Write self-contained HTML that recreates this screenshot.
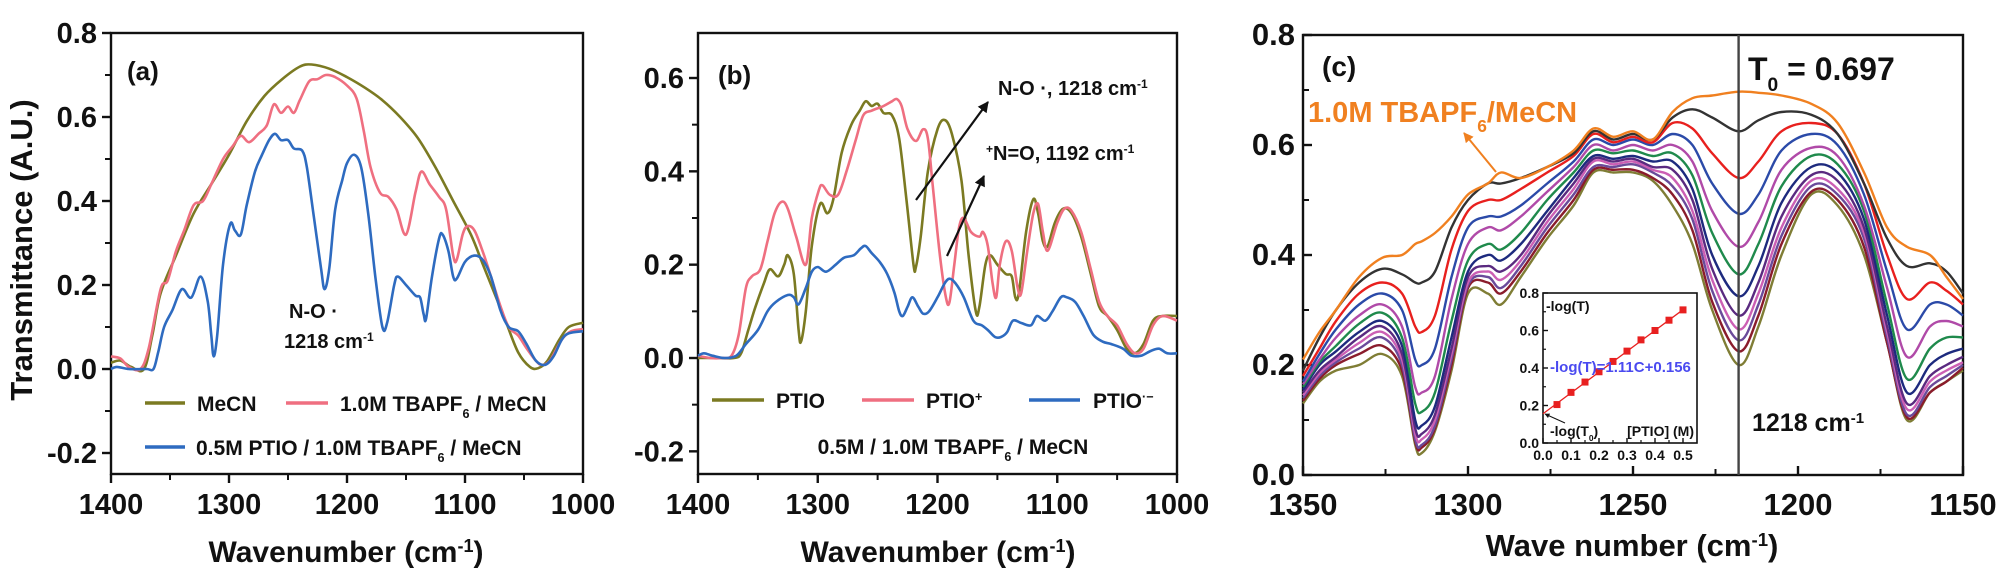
<!DOCTYPE html>
<html><head><meta charset="utf-8">
<style>
html,body{margin:0;padding:0;background:#fff;}
svg{display:block;font-family:"Liberation Sans",Arial,sans-serif;font-weight:bold;}
</style></head>
<body>
<svg id="fig" width="2008" height="584" viewBox="0 0 2008 584" xmlns="http://www.w3.org/2000/svg"></svg>
<script>
// ---------- Panel (a) data ----------
const waveA_MeCN=[1400,1392,1383,1372,1365,1358,1345,1330,1315,1300,1285,1270,1255,1240,1230,1215,1200,1185,1170,1155,1140,1125,1110,1095,1085,1075,1065,1055,1045,1038,1030,1020,1012,1000];
const valA_MeCN=[0.015,0.02,0.005,0.0,0.08,0.18,0.27,0.37,0.44,0.51,0.59,0.65,0.69,0.72,0.725,0.715,0.695,0.67,0.64,0.6,0.55,0.48,0.40,0.32,0.25,0.18,0.11,0.04,0.005,0.002,0.02,0.07,0.1,0.11];
const waveA_TBA=[1400,1392,1385,1375,1368,1358,1352,1345,1338,1330,1322,1315,1305,1297,1290,1283,1275,1268,1262,1256,1250,1245,1240,1232,1225,1218,1210,1200,1192,1186,1180,1172,1165,1158,1150,1142,1137,1130,1122,1116,1110,1107,1102,1098,1092,1085,1078,1070,1063,1055,1048,1040,1035,1028,1018,1010,1000];
const valA_TBA=[0.03,0.025,0.005,0,0.05,0.19,0.21,0.28,0.33,0.39,0.4,0.44,0.5,0.53,0.555,0.54,0.56,0.58,0.63,0.61,0.625,0.61,0.64,0.685,0.69,0.7,0.695,0.675,0.645,0.57,0.48,0.42,0.41,0.38,0.32,0.42,0.47,0.44,0.41,0.38,0.27,0.26,0.32,0.34,0.33,0.28,0.22,0.15,0.1,0.08,0.05,0.02,0.01,0.02,0.07,0.09,0.095];
const waveA_PTIO=[1400,1395,1385,1370,1364,1360,1355,1348,1340,1332,1324,1318,1315,1313,1310,1305,1299,1295,1290,1285,1278,1272,1266,1261,1256,1250,1245,1238,1234,1228,1222,1219,1215,1210,1204,1200,1194,1188,1182,1176,1170,1166,1160,1157,1150,1142,1138,1135,1133,1128,1122,1119,1114,1110,1107,1100,1092,1085,1078,1070,1063,1055,1048,1040,1032,1025,1018,1012,1000];
const valA_PTIO=[0,0.005,0,0,0,0.04,0.1,0.14,0.19,0.17,0.22,0.16,0.08,0.03,0.08,0.25,0.345,0.33,0.32,0.39,0.47,0.51,0.545,0.56,0.545,0.545,0.525,0.52,0.48,0.36,0.24,0.19,0.24,0.38,0.45,0.49,0.51,0.48,0.37,0.22,0.1,0.11,0.2,0.22,0.2,0.175,0.17,0.13,0.12,0.22,0.31,0.32,0.28,0.22,0.215,0.255,0.27,0.26,0.22,0.14,0.1,0.09,0.06,0.02,0.01,0.03,0.07,0.085,0.09];
const ticksA_Y=[-0.2,0.0,0.2,0.4,0.6,0.8];
const ticksA_X=[1400,1300,1200,1100,1000];

// ---------- Panel (b) data ----------
const waveB_PTIO=[1400,1385,1370,1364,1358,1352,1345,1340,1333,1328,1325,1320,1316,1314,1310,1305,1298,1292,1287,1280,1272,1265,1260,1255,1250,1245,1238,1232,1226,1220,1218,1214,1208,1200,1194,1188,1180,1174,1168,1165,1160,1156,1150,1143,1138,1135,1132,1126,1120,1116,1112,1108,1102,1095,1088,1080,1072,1065,1058,1050,1042,1035,1028,1020,1012,1000];
const valB_PTIO=[0,0,0,0.01,0.06,0.11,0.16,0.19,0.175,0.2,0.22,0.18,0.06,0.035,0.1,0.24,0.33,0.31,0.34,0.44,0.5,0.53,0.55,0.54,0.545,0.525,0.52,0.47,0.34,0.2,0.195,0.26,0.4,0.49,0.51,0.48,0.38,0.22,0.1,0.11,0.2,0.22,0.2,0.18,0.175,0.13,0.14,0.27,0.34,0.31,0.25,0.24,0.29,0.32,0.31,0.26,0.18,0.11,0.09,0.06,0.02,0.01,0.03,0.08,0.09,0.09];
const waveB_Cat=[1400,1390,1380,1372,1366,1360,1355,1348,1342,1336,1330,1325,1318,1310,1305,1299,1296,1290,1283,1276,1268,1262,1255,1250,1245,1238,1234,1230,1225,1218,1212,1208,1204,1198,1193,1190,1186,1182,1178,1172,1165,1162,1158,1154,1151,1148,1143,1138,1133,1130,1125,1120,1116,1112,1108,1100,1094,1088,1080,1072,1065,1058,1050,1042,1035,1028,1020,1012,1000];
const valB_Cat=[0.005,0,0,0.005,0.05,0.15,0.175,0.19,0.25,0.31,0.335,0.32,0.26,0.2,0.3,0.36,0.37,0.35,0.35,0.4,0.47,0.52,0.53,0.535,0.54,0.55,0.555,0.54,0.49,0.465,0.49,0.47,0.37,0.22,0.13,0.12,0.2,0.28,0.3,0.27,0.26,0.27,0.24,0.16,0.13,0.2,0.25,0.23,0.15,0.14,0.23,0.31,0.33,0.27,0.23,0.29,0.32,0.315,0.27,0.19,0.12,0.09,0.07,0.03,0.01,0.02,0.07,0.09,0.08];
const waveB_An=[1400,1395,1388,1378,1368,1360,1350,1342,1335,1325,1320,1316,1310,1305,1300,1293,1285,1278,1270,1264,1260,1255,1248,1242,1236,1232,1229,1225,1221,1216,1212,1207,1200,1194,1190,1185,1178,1170,1163,1158,1152,1147,1142,1137,1130,1122,1117,1110,1104,1097,1092,1085,1078,1070,1062,1055,1045,1038,1030,1022,1015,1008,1000];
const valB_An=[0.005,0.01,0.005,0,0.005,0.03,0.06,0.1,0.12,0.135,0.13,0.115,0.15,0.185,0.195,0.185,0.2,0.215,0.22,0.235,0.24,0.225,0.205,0.18,0.14,0.1,0.09,0.11,0.13,0.11,0.095,0.1,0.13,0.16,0.17,0.16,0.13,0.08,0.07,0.06,0.045,0.045,0.055,0.08,0.075,0.07,0.09,0.08,0.1,0.13,0.13,0.12,0.09,0.05,0.035,0.03,0.02,0.005,0.005,0.015,0.02,0.01,0.01];
const ticksB_Y=[-0.2,0.0,0.2,0.4,0.6];
const ticksB_X=[1400,1300,1200,1100,1000];

// ---------- Panel (c) data ----------
const waveC=[1350,1345,1340,1333,1326,1320,1316,1314,1310,1305,1300,1294,1290,1284,1276,1268,1262,1256,1250,1244,1238,1232,1226,1218,1212,1205,1196,1188,1180,1173,1167,1160,1155,1150];
const valC_orange=[0.21,0.26,0.30,0.36,0.395,0.40,0.42,0.425,0.44,0.47,0.51,0.53,0.55,0.54,0.56,0.59,0.63,0.615,0.625,0.61,0.66,0.685,0.69,0.697,0.695,0.69,0.675,0.64,0.55,0.45,0.415,0.40,0.36,0.32];
const valC_black=[0.19,0.25,0.30,0.35,0.375,0.365,0.35,0.35,0.37,0.45,0.50,0.53,0.53,0.54,0.56,0.585,0.625,0.61,0.62,0.61,0.65,0.665,0.65,0.625,0.645,0.66,0.655,0.62,0.53,0.43,0.38,0.385,0.37,0.33];
const valC_red=[0.18,0.23,0.28,0.33,0.35,0.33,0.27,0.26,0.29,0.41,0.48,0.50,0.50,0.52,0.55,0.58,0.62,0.605,0.615,0.605,0.64,0.63,0.585,0.54,0.57,0.625,0.64,0.62,0.53,0.40,0.32,0.35,0.335,0.31];
const valC_blue=[0.17,0.22,0.265,0.31,0.33,0.30,0.21,0.20,0.23,0.36,0.45,0.47,0.47,0.49,0.53,0.57,0.61,0.60,0.61,0.60,0.62,0.60,0.53,0.475,0.51,0.59,0.62,0.60,0.51,0.37,0.265,0.31,0.31,0.29];
const valC_magenta=[0.165,0.21,0.25,0.29,0.31,0.27,0.16,0.15,0.18,0.32,0.42,0.45,0.445,0.47,0.515,0.56,0.60,0.59,0.60,0.59,0.60,0.57,0.48,0.415,0.46,0.555,0.595,0.58,0.49,0.34,0.215,0.27,0.28,0.27];
const valC_green=[0.16,0.205,0.235,0.275,0.295,0.25,0.13,0.115,0.15,0.28,0.39,0.42,0.41,0.44,0.50,0.55,0.59,0.585,0.59,0.58,0.585,0.545,0.44,0.365,0.42,0.525,0.58,0.565,0.48,0.31,0.175,0.23,0.25,0.25];
const valC_navy=[0.155,0.20,0.225,0.26,0.28,0.235,0.10,0.09,0.125,0.25,0.37,0.40,0.39,0.42,0.48,0.54,0.58,0.575,0.58,0.57,0.57,0.52,0.40,0.325,0.38,0.495,0.56,0.55,0.465,0.29,0.15,0.20,0.22,0.23];
const valC_purple=[0.15,0.19,0.215,0.25,0.27,0.22,0.085,0.075,0.11,0.23,0.36,0.38,0.37,0.40,0.47,0.53,0.575,0.57,0.575,0.56,0.555,0.50,0.375,0.29,0.35,0.47,0.545,0.535,0.45,0.27,0.13,0.18,0.20,0.215];
const valC_pink=[0.145,0.185,0.21,0.24,0.26,0.21,0.075,0.065,0.10,0.22,0.35,0.37,0.355,0.39,0.46,0.52,0.57,0.565,0.57,0.555,0.54,0.48,0.355,0.265,0.33,0.45,0.535,0.52,0.44,0.26,0.12,0.17,0.19,0.205];
const valC_violet=[0.14,0.18,0.205,0.23,0.25,0.20,0.065,0.055,0.09,0.21,0.345,0.36,0.34,0.38,0.45,0.51,0.56,0.56,0.565,0.55,0.525,0.465,0.335,0.245,0.31,0.435,0.525,0.51,0.43,0.25,0.11,0.16,0.18,0.20];
const valC_darkred=[0.135,0.175,0.20,0.22,0.235,0.19,0.06,0.05,0.085,0.20,0.34,0.35,0.33,0.37,0.44,0.50,0.555,0.555,0.555,0.54,0.51,0.445,0.315,0.225,0.29,0.42,0.515,0.50,0.415,0.24,0.105,0.15,0.17,0.195];
const valC_olive=[0.13,0.17,0.19,0.20,0.22,0.18,0.055,0.04,0.08,0.19,0.33,0.33,0.31,0.36,0.43,0.49,0.55,0.55,0.55,0.535,0.49,0.42,0.30,0.20,0.27,0.40,0.51,0.49,0.40,0.24,0.10,0.15,0.17,0.19];
const ticksC_Y=[0.0,0.2,0.4,0.6,0.8];
const ticksC_X=[1350,1300,1250,1200,1150];

// inset
const insetConc=[0.05,0.1,0.15,0.2,0.25,0.3,0.35,0.4,0.45,0.5];
const insetVal=[0.205,0.27,0.325,0.38,0.435,0.49,0.55,0.6,0.655,0.71];
const insetSlope=[1.11];
const insetIntercept=[0.156];
const insetTicksX=[0.0,0.1,0.2,0.3,0.4,0.5];
const insetTicksY=[0.0,0.2,0.4,0.6,0.8];

const NS="http://www.w3.org/2000/svg";
const svg=document.getElementById('fig');
function mk(tag,attrs,parent){const e=document.createElementNS(NS,tag);for(const k in attrs)e.setAttribute(k,attrs[k]);(parent||svg).appendChild(e);return e;}
function scale(d0,d1,r0,r1){return v=>r0+(v-d0)/(d1-d0)*(r1-r0);}
function smoothPath(pts){
  let d=`M${pts[0][0].toFixed(1)},${pts[0][1].toFixed(1)}`;
  for(let i=0;i<pts.length-1;i++){
    const p0=pts[Math.max(0,i-1)],p1=pts[i],p2=pts[i+1],p3=pts[Math.min(pts.length-1,i+2)];
    const c1x=p1[0]+(p2[0]-p0[0])/6,c1y=p1[1]+(p2[1]-p0[1])/6;
    const c2x=p2[0]-(p3[0]-p1[0])/6,c2y=p2[1]-(p3[1]-p1[1])/6;
    d+=`C${c1x.toFixed(1)},${c1y.toFixed(1)} ${c2x.toFixed(1)},${c2y.toFixed(1)} ${p2[0].toFixed(1)},${p2[1].toFixed(1)}`;
  }
  return d;
}
function series(xs,ys,sx,sy,color,name,w){
  const pts=xs.map((x,i)=>[sx(x),sy(ys[i])]);
  const p=mk('path',{d:smoothPath(pts),fill:'none',stroke:color,'stroke-width':w||2.6,'stroke-linejoin':'round'});
  
  
  return p;
}
function text(x,y,str,size,opts){
  const t=mk('text',Object.assign({x:x,y:y,'font-size':size,fill:'#111'},opts||{}));
  t.textContent=str;return t;
}

// generic panel axes
function axes(o){
  const g=mk('g',{});
  
  
  const box=mk('rect',{x:o.x0,y:o.y0,width:o.x1-o.x0,height:o.y1-o.y0,fill:'none',stroke:'#111','stroke-width':2.4},g);
  
  
  const dir=o.inward?-1:1;
  o.ty.forEach((v,i)=>{
    const y=o.sy(v);
    mk('line',{x1:o.x0,x2:o.x0-9*dir,y1:y,y2:y,stroke:'#111','stroke-width':2.4},g);
    const t=text(o.x0-(o.inward?8:14),y+10,v.toFixed(1),o.tfs||29,{'text-anchor':'end'});
    
    
    if(i<o.ty.length-1){const ym=o.sy(v+(o.ty[1]-o.ty[0])/2);
      mk('line',{x1:o.x0,x2:o.x0-6*dir,y1:ym,y2:ym,stroke:'#111','stroke-width':2},g);}
  });
  if(o.minorTop!==undefined){const ym=o.sy(o.minorTop);mk('line',{x1:o.x0,x2:o.x0-6*dir,y1:ym,y2:ym,stroke:'#111','stroke-width':2},g);}
  o.tx.forEach((v,i)=>{
    const x=o.sx(v);
    mk('line',{x1:x,x2:x,y1:o.y1,y2:o.y1+9*dir,stroke:'#111','stroke-width':2.4},g);
    const t=text(x,o.y1+40,String(v),o.tfs||29,{'text-anchor':'middle'});
    
    
    if(i<o.tx.length-1){const xm=o.sx(v+(o.tx[1]-o.tx[0])/2);
      mk('line',{x1:xm,x2:xm,y1:o.y1,y2:o.y1+6*dir,stroke:'#111','stroke-width':2},g);}
  });
  return g;
}
function sub(parent,str,dy){const ts=mk('tspan',{'baseline-shift':dy||'super','font-size':'60%'},parent);ts.textContent=str;return ts;}

// ===== Panel (a) =====
const ax={x0:111,x1:583,y0:33,y1:474};
const sxA=scale(1400,1000,ax.x0,ax.x1), syA=scale(0,0.8,369,33);
axes({name:'panel-a-axes',x0:ax.x0,x1:ax.x1,y0:ax.y0,y1:ax.y1,sx:sxA,sy:syA,ty:ticksA_Y,tx:ticksA_X});
series(waveA_MeCN,valA_MeCN,sxA,syA,'#7b7a22','series-mecn');
series(waveA_TBA,valA_TBA,sxA,syA,'#ef6f80','series-tbapf6');
series(waveA_PTIO,valA_PTIO,sxA,syA,'#2e6bc0','series-ptio-tbapf6');
let t=text(22,250,'Transmittance (A.U.)',31,{'text-anchor':'middle',transform:'rotate(-90 22 250)',dy:10});

t=text(346,562,'Wavenumber (cm',30,{'text-anchor':'middle'});sub(t,'-1');t.appendChild(document.createTextNode(')'));

t=text(127,80,'(a)',26);
t=text(289,318,'N-O ·',20);
t=text(284,348,'1218 cm',20);sub(t,'-1');
// legend a
function legendEntry(x1,x2,y,color,label,name,tx){
  const g=mk('g',{});
  mk('line',{x1:x1,x2:x2,y1:y,y2:y,stroke:color,'stroke-width':3.5},g);
  const tt=mk('text',{x:tx,y:y+8,'font-size':21,fill:'#111'},g);return tt;
}
t=legendEntry(145,185,403,'#7b7a22','','legend-entry-mecn',197);t.textContent='MeCN';
t=legendEntry(286,328,403,'#ef6f80','','legend-entry-tbapf6',340);t.textContent='1.0M TBAPF';sub(t,'6','sub');t.appendChild(document.createTextNode(' / MeCN'));
t=legendEntry(145,185,447,'#2e6bc0','','legend-entry-ptio',196);t.textContent='0.5M PTIO / 1.0M TBAPF';sub(t,'6','sub');t.appendChild(document.createTextNode(' / MeCN'));

// ===== Panel (b) =====
const bx={x0:698,x1:1177,y0:33,y1:474};
const sxB=scale(1400,1000,bx.x0,bx.x1), syB=scale(0,0.6,358,78);
axes({name:'panel-b-axes',x0:bx.x0,x1:bx.x1,y0:bx.y0,y1:bx.y1,sx:sxB,sy:syB,ty:ticksB_Y,tx:ticksB_X});
series(waveB_PTIO,valB_PTIO,sxB,syB,'#7b7a22','series-ptio');
series(waveB_Cat,valB_Cat,sxB,syB,'#ef6f80','series-ptio-cation');
series(waveB_An,valB_An,sxB,syB,'#2e6bc0','series-ptio-anion');
t=text(938,562,'Wavenumber (cm',30,{'text-anchor':'middle'});sub(t,'-1');t.appendChild(document.createTextNode(')'));

t=text(718,84,'(b)',26);
mk('defs',{}).innerHTML='<marker id="ah" viewBox="0 0 10 10" refX="9" refY="5" markerWidth="5" markerHeight="5" orient="auto"><path d="M0,0L10,5L0,10z" fill="#111"/></marker><marker id="aho" viewBox="0 0 10 10" refX="9" refY="5" markerWidth="5" markerHeight="5" orient="auto"><path d="M0,0L10,5L0,10z" fill="#f08020"/></marker>';
let a1=mk('line',{x1:916,y1:200,x2:988,y2:102,stroke:'#111','stroke-width':2.2,'marker-end':'url(#ah)'});

let a2=mk('line',{x1:947,y1:256,x2:984,y2:176,stroke:'#111','stroke-width':2.2,'marker-end':'url(#ah)'});

t=text(998,95,'N-O ·, 1218 cm',20);sub(t,'-1');
t=text(986,160,'',20);sub(t,'+');t.appendChild(document.createTextNode('N=O, 1192 cm'));sub(t,'-1');
t=legendEntry(712,764,400,'#7b7a22','','legend-entry-ptio-b',776);t.textContent='PTIO';
t=legendEntry(862,914,400,'#ef6f80','','legend-entry-ptio-cation',926);t.textContent='PTIO';sub(t,'+');
t=legendEntry(1029,1080,400,'#2e6bc0','','legend-entry-ptio-anion',1093);t.textContent='PTIO';sub(t,'·−');
t=text(953,454,'0.5M / 1.0M TBAPF',21,{'text-anchor':'middle'});sub(t,'6','sub');t.appendChild(document.createTextNode(' / MeCN'));


// ===== Panel (c) =====
const cx={x0:1303,x1:1963,y0:35,y1:475};
const sxC=scale(1350,1150,cx.x0,cx.x1), syC=scale(0,0.8,475,35);
axes({name:'panel-c-axes',x0:cx.x0,x1:cx.x1,y0:cx.y0,y1:cx.y1,sx:sxC,sy:syC,ty:ticksC_Y,tx:ticksC_X,inward:true,tfs:31});
const cSeries=[[valC_olive,'#7f7d35','olive'],[valC_darkred,'#8a1c2c','darkred'],[valC_violet,'#6a4a9a','violet'],[valC_pink,'#cc5fb4','pink'],[valC_purple,'#5a2a80','purple'],[valC_navy,'#1d2a7e','navy'],[valC_green,'#1f8a4c','green'],[valC_magenta,'#b04aa8','magenta'],[valC_blue,'#2b4aa8','blue'],[valC_red,'#e8201e','red'],[valC_black,'#333333','black'],[valC_orange,'#f08020','orange']];
cSeries.forEach(s=>series(waveC,s[0],sxC,syC,s[1],'series-c-'+s[2],2.4));
const vl=mk('line',{x1:sxC(1218),x2:sxC(1218),y1:cx.y0,y2:cx.y1,stroke:'#444','stroke-width':2.4});

t=text(1322,76,'(c)',28);
t=text(1748,80,'T',32);sub(t,'0','sub');t.appendChild(document.createTextNode(' = 0.697'));
t=text(1308,122,'1.0M TBAPF',29,{fill:'#f08020'});sub(t,'6','sub');t.appendChild(document.createTextNode('/MeCN'));

let a3=mk('line',{x1:1496,y1:172,x2:1464,y2:133,stroke:'#f08020','stroke-width':2,'marker-end':'url(#aho)'});

t=text(1752,431,'1218 cm',25);sub(t,'-1');
t=text(1632,556,'Wave number (cm',31,{'text-anchor':'middle'});sub(t,'-1');t.appendChild(document.createTextNode(')'));


// inset
const ix={x0:1543,x1:1697,y0:293,y1:443};
const sxI=scale(0,0.5,ix.x0,1683), syI=scale(0,0.8,ix.y1,ix.y0);
const ig=mk('g',{});
mk('rect',{x:ix.x0,y:ix.y0,width:ix.x1-ix.x0,height:ix.y1-ix.y0,fill:'#fff',stroke:'#111','stroke-width':1.6},ig);
insetTicksY.forEach((v,i)=>{const y=syI(v);mk('line',{x1:ix.x0,x2:ix.x0+5,y1:y,y2:y,stroke:'#111','stroke-width':1.4},ig);
  const tt=mk('text',{x:ix.x0-4,y:y+5,'font-size':14,'text-anchor':'end',fill:'#111'},ig);tt.textContent=v.toFixed(1);
  if(i<insetTicksY.length-1){const ym=syI(v+0.1);mk('line',{x1:ix.x0,x2:ix.x0+3,y1:ym,y2:ym,stroke:'#111','stroke-width':1.2},ig);}});
insetTicksX.forEach((v,i)=>{const x=sxI(v);mk('line',{x1:x,x2:x,y1:ix.y1,y2:ix.y1-5,stroke:'#111','stroke-width':1.4},ig);
  const tt=mk('text',{x:x,y:ix.y1+17,'font-size':14,'text-anchor':'middle',fill:'#111'},ig);tt.textContent=v.toFixed(1);
  if(i<insetTicksX.length-1){const xm=sxI(v+0.05);mk('line',{x1:xm,x2:xm,y1:ix.y1,y2:ix.y1-3,stroke:'#111','stroke-width':1.2},ig);}});
const fit=mk('line',{x1:sxI(0),y1:syI(insetIntercept[0]),x2:sxI(0.5),y2:syI(insetIntercept[0]+insetSlope[0]*0.5),stroke:'#e82020','stroke-width':1.3},ig);

insetConc.forEach((c,i)=>{const r=mk('rect',{x:sxI(c)-3.5,y:syI(insetVal[i])-3.5,width:7,height:7,fill:'#e82020'},ig);
  
  });
let it=mk('text',{x:1546,y:311,'font-size':14,fill:'#111'},ig);it.textContent='-log(T)';
it=mk('text',{x:1550,y:372,'font-size':15,fill:'#4a4af0'},ig);it.textContent='-log(T)=1.11C+0.156';
it=mk('text',{x:1550,y:436,'font-size':14,fill:'#111'},ig);it.textContent='-log(T';sub(it,'0','sub');it.appendChild(document.createTextNode(')'));
it=mk('text',{x:1694,y:436,'font-size':14,'text-anchor':'end',fill:'#111'},ig);it.textContent='[PTIO] (M)';
mk('line',{x1:1565,y1:423,x2:1545,y2:414,stroke:'#111','stroke-width':1,'marker-end':'url(#ah)'},ig);
</script>
</body></html>
